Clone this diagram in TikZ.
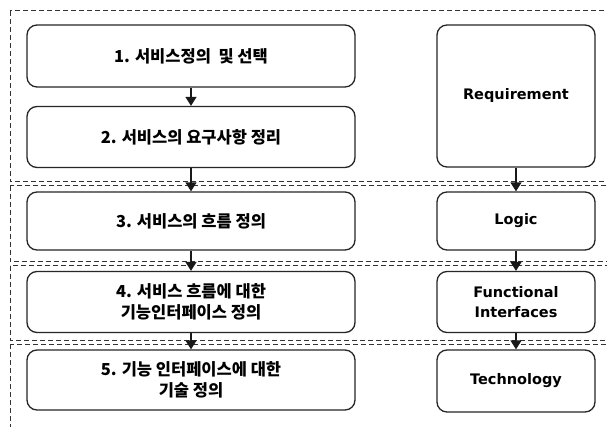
\documentclass[tikz,border=0pt]{standalone}
\usepackage{fontspec}
\newfontfamily\kr{Noto Sans CJK KR}
\newfontfamily\en{DejaVu Sans}
\usetikzlibrary{arrows.meta}
\tikzset{
  lbox/.style={draw=black!85, line width=1.3pt, rounded corners=10pt, minimum width=328pt, align=center, font=\kr\bfseries\fontsize{16.5}{21}\selectfont, inner sep=0pt},
  rbox/.style={draw=black!85, line width=1.3pt, rounded corners=10pt, minimum width=158pt, align=center, font=\en\bfseries\fontsize{14.5}{20}\selectfont, inner sep=0pt},
  sect/.style={draw=black!80, dashed, dash pattern=on 5pt off 3pt, line width=1pt},
  arr/.style={-{Triangle[width=11pt,length=9pt]}, line width=1.4pt, black!90}
}
\begin{document}
\begin{tikzpicture}[x=1pt,y=-1pt]
\clip (0,0) rectangle (607,427);
\fill[white] (0,0) rectangle (607,427);
% dashed sections
\draw[sect] (10,11) rectangle (640,182);
\draw[sect] (10,186) rectangle (640,262);
\draw[sect] (10,266) rectangle (640,340);
\draw[sect] (10,344) rectangle (640,460);
% left column
\node[lbox, minimum height=62pt] (b1) at (191,56) {1. 서비스정의\ \ 및 선택};
\node[lbox, minimum height=61pt] (b2) at (191,137) {2. 서비스의 요구사항 정리};
\node[lbox, minimum height=58pt] (b3) at (191,221) {3. 서비스의 흐름 정의};
\node[lbox, minimum height=61pt] (b4) at (191,302) {4. 서비스 흐름에 대한\\기능인터페이스 정의};
\node[lbox, minimum height=60pt] (b5) at (191,380) {5. 기능 인터페이스에 대한\\기술 정의};
% right column
\node[rbox, minimum height=142pt] (r1) at (516,96) {Requirement};
\node[rbox, minimum height=58pt] (r2) at (516,221) {Logic};
\node[rbox, minimum height=61pt] (r3) at (516,302) {Functional\\Interfaces};
\node[rbox, minimum height=62pt] (r4) at (516,381) {Technology};
% arrows
\draw[arr] (b1) -- (b2);
\draw[arr] (b2) -- (b3);
\draw[arr] (b3) -- (b4);
\draw[arr] (b4) -- (b5);
\draw[arr] (r1) -- (r2);
\draw[arr] (r2) -- (r3);
\draw[arr] (r3) -- (r4);
\end{tikzpicture}
\end{document}
